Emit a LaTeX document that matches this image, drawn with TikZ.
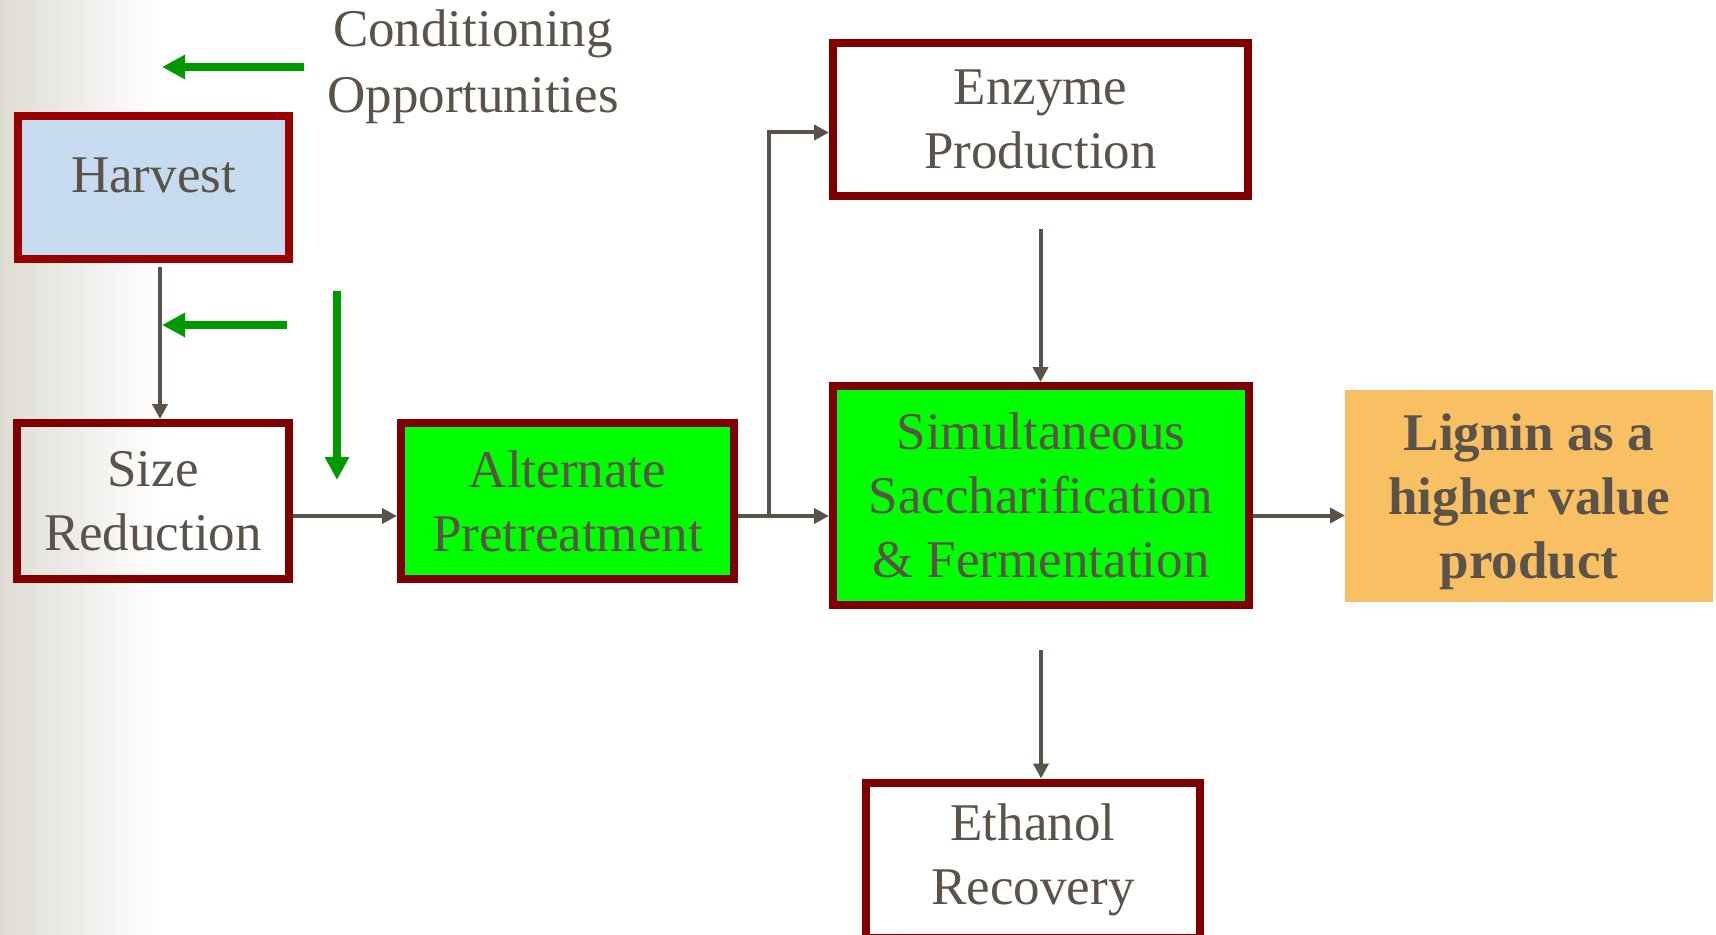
\documentclass[tikz,border=0pt]{standalone}
\usepackage{fontspec}
\setmainfont{Liberation Serif}
\usepackage{xcolor}
\usetikzlibrary{positioning,arrows.meta}
\definecolor{boxred}{HTML}{800000}
\definecolor{harvred}{HTML}{990000}
\definecolor{inkgray}{HTML}{5B5349}
\definecolor{cuegreen}{HTML}{009900}
\definecolor{harvblue}{HTML}{C6DBEF}
\definecolor{ligninorange}{HTML}{F8C062}
\definecolor{edgegray}{HTML}{DFDCD5}

\begin{document}
\begin{tikzpicture}[x=0.5pt,y=-0.5pt,
  box/.style={draw=boxred,line width=4pt,text=inkgray,align=center,inner sep=0pt,
    font=\fontsize{26.5}{32}\selectfont},
  flow/.style={draw=inkgray,line width=2pt,-{Triangle[length=7.5pt,width=7.5pt]}},
  cue/.style={draw=cuegreen,line width=4pt,-{Triangle[length=11.5pt,width=11.5pt]}}]
\clip (0,0) rectangle (1716,935);
\fill[white] (0,0) rectangle (1716,935);
\shade[left color=edgegray,right color=white] (0,0) rectangle (160,935);

\node[text=inkgray,align=center,font=\fontsize{26.5}{33}\selectfont] (cond) at (473,67) {Conditioning\\Opportunities};
\node[box,draw=harvred,fill=harvblue,minimum width=135.5pt,minimum height=71.5pt] (harvest) at (153.5,187.5) {Harvest\rule[-12pt]{0pt}{0pt}};
\node[box,minimum width=136pt,minimum height=78pt] (sizered) at (153,501) {Size\\Reduction};
\node[box,fill=green,minimum width=166.5pt,minimum height=78pt] (altpre) at (567.5,501) {Alternate\\Pretreatment};
\node[box,fill=white,minimum width=207.5pt,minimum height=76.5pt] (enzyme) at (1040.5,119.5) {Enzyme\\Production};
\node[box,fill=green,minimum width=208pt,minimum height=109.5pt] (ssf) at (1041,495.5) {Simultaneous\\Saccharification\\\& Fermentation};
\node[box,draw=none,fill=ligninorange,outer sep=0pt,minimum width=184pt,minimum height=106pt,
  font=\bfseries\fontsize{26.5}{32}\selectfont] (lignin) at (1529,496) {\rule{0pt}{24pt}Lignin as a\\higher value\\product};
\node[box,fill=white,minimum width=167pt,minimum height=77.5pt] (ethanol) at (1033,860) {Ethanol\\Recovery};

\draw[flow,shorten <=2pt] ([xshift=3.25pt]harvest.south) -- ([xshift=3.25pt]harvest.south |- sizered.north);
\draw[flow] ([yshift=-7.5pt]sizered.east) -- ([yshift=-7.5pt]sizered.east -| altpre.west);
\draw[flow] ([yshift=-7.5pt]altpre.east) -- ([yshift=-7.5pt]altpre.east -| ssf.west);
\path ([yshift=-7.5pt]altpre.east) ++(31,0) coordinate (split);
\draw[flow] (split) |- ([yshift=-6.5pt]enzyme.west);
\draw[flow,shorten <=14.5pt] (enzyme.south) -- (enzyme.south |- ssf.north);
\draw[flow,shorten <=20.5pt] (ssf.south) -- (ssf.south |- ethanol.north);
\draw[flow] ([yshift=-10pt]ssf.east) -- ([yshift=-10pt]ssf.east -| lignin.west);

\coordinate (topcue) at (304,67);
\coordinate (toptip) at (162,67);
\coordinate (midcue) at (287,325);
\coordinate (midtip) at (162,325);
\coordinate (downcue) at (337,291);
\coordinate (downtip) at (337,480);
\draw[cue] (topcue) -- (toptip);
\draw[cue] (midcue) -- (midtip);
\draw[cue] (downcue) -- (downtip);
\end{tikzpicture}
\end{document}
